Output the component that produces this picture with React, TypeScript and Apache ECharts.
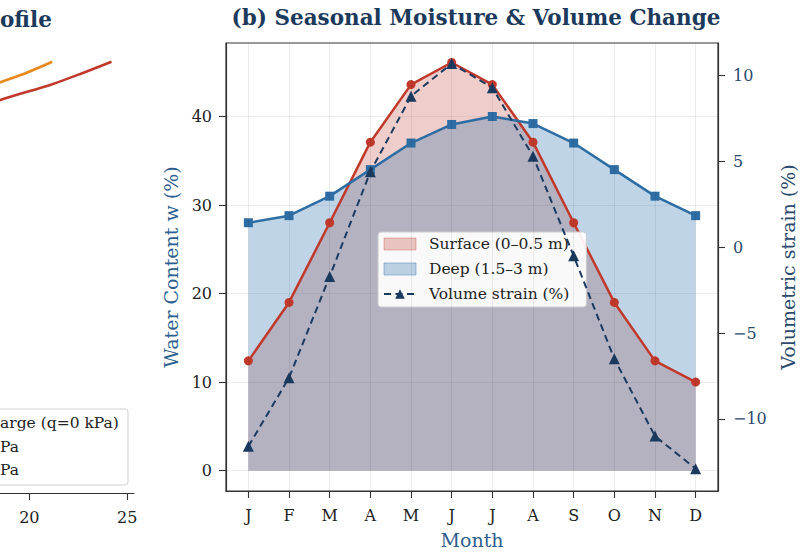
import React, { useEffect, useRef } from 'react';
import * as echarts from 'echarts';

// ---------- Panel (b) data ----------
const months = ['J', 'F', 'M', 'A', 'M', 'J', 'J', 'A', 'S', 'O', 'N', 'D'];
const surfaceW = [12.4, 19.0, 28.0, 37.1, 43.6, 46.1, 43.6, 37.1, 28.0, 19.0, 12.4, 10.0];
const deepW = [28.0, 28.8, 31.0, 34.0, 37.0, 39.1, 40.0, 39.2, 37.0, 34.0, 31.0, 28.8];
const strainPct = [-11.6, -7.6, -1.7, 4.4, 8.8, 10.7, 9.3, 5.3, -0.5, -6.5, -11.0, -12.9];
const leftTicks = [0, 10, 20, 30, 40];
const rightTicks = [-10, -5, 0, 5, 10];

// ---------- Panel (a) data (only its right edge is visible) ----------
const profileDepth = [0, 0.08, 0.16, 0.27, 0.5, 1.0];
const swellQ0 = [24.2, 22.7, 21.1, 18.45, 14.0, 8.0];
const swellQ50 = [21.17, 19.8, 18.2, 16.5, 13.5, 8.0];
const profileTicks = [20, 25];

const FONT = 'DejaVu Serif';
const RED = '#c0392b';
const BLUE = '#2e6da4';
const NAVY = '#1b3a60';
const TITLE = '#1b3a5c';
const AXNAME = '#2e5f8f';
const RIGHTC = '#2c4a6e';

const monthIdx = months.map((_, i) => i);
const pts = (arr: number[]) => arr.map((v, i) => [i, v]);
const minus = (v: number) => (v < 0 ? '\u2212' + Math.abs(v) : String(v));

export default function App() {
  const ref = useRef<HTMLDivElement>(null);
  useEffect(() => {
    const chart = echarts.init(ref.current!, null, { renderer: 'svg' });
    const axisLine = { show: true, onZero: false, lineStyle: { color: '#333', width: 1.2 } };
    const tick = (vals: number[]) => ({
      show: true,
      customValues: vals,
      length: 7,
      lineStyle: { color: '#333', width: 1.1 },
    });
    const option: any = {
      animation: false,
      backgroundColor: '#fff',
      textStyle: { fontFamily: FONT },
      title: {
        text: '(b) Seasonal Moisture & Volume Change',
        left: 476,
        top: 6,
        padding: 0,
        textAlign: 'center',
        textStyle: { fontFamily: FONT, fontWeight: 'bold', fontSize: 21.5, color: TITLE },
      },
      graphic: [
        {
          type: 'text',
          x: 0,
          y: 19,
          style: {
            text: 'ofile',
            textAlign: 'left',
            textVerticalAlign: 'middle',
            font: `bold 21.5px "${FONT}"`,
            fill: TITLE,
          },
        },
        {
          type: 'rect',
          shape: { x: -140, y: 409, width: 268, height: 76, r: 3 },
          style: { fill: '#fff', stroke: '#d0d0d0', lineWidth: 1 },
          z: 10,
        },
        {
          type: 'text', x: 0, y: 423, z: 11,
          style: { text: 'arge (q=0 kPa)', textAlign: 'left', textVerticalAlign: 'middle', font: `15.5px "${FONT}"`, fill: '#222' },
        },
        {
          type: 'text', x: 0, y: 447, z: 11,
          style: { text: 'Pa', textAlign: 'left', textVerticalAlign: 'middle', font: `15.5px "${FONT}"`, fill: '#222' },
        },
        {
          type: 'text', x: 0, y: 470, z: 11,
          style: { text: 'Pa', textAlign: 'left', textVerticalAlign: 'middle', font: `15.5px "${FONT}"`, fill: '#222' },
        },
      ],
      legend: {
        orient: 'vertical',
        left: 378,
        top: 232,
        itemWidth: 32,
        itemHeight: 12,
        itemGap: 9,
        padding: [4, 17, 5, 5],
        backgroundColor: 'rgba(255,255,255,0.92)',
        borderColor: '#cccccc',
        borderWidth: 1,
        borderRadius: 3,
        textStyle: { fontFamily: FONT, fontSize: 15.5, color: '#222', padding: [0, 0, 0, 8] },
        data: [
          {
            name: 'Surface (0–0.5 m)',
            icon: 'rect',
            itemStyle: { color: 'rgba(192,57,43,0.28)', borderColor: 'rgba(192,57,43,0.35)', borderWidth: 1 },
          },
          {
            name: 'Deep (1.5–3 m)',
            icon: 'rect',
            itemStyle: { color: 'rgba(42,111,171,0.3)', borderColor: 'rgba(42,111,171,0.4)', borderWidth: 1 },
          },
          { name: 'Volume strain (%)' },
        ],
      },
      grid: [
        { left: 226, top: 43, width: 501, height: 450, show: true, borderColor: '#333', borderWidth: 1.2 },
        { left: 0, top: 43, width: 134, height: 450 },
      ],
      xAxis: [
        {
          type: 'value',
          gridIndex: 0,
          min: -0.55,
          max: 11.55,
          name: 'Month',
          nameLocation: 'middle',
          nameGap: 39,
          nameTextStyle: { fontFamily: FONT, fontSize: 19, color: AXNAME },
          axisLine,
          axisTick: tick(monthIdx),
          axisLabel: {
            customValues: monthIdx,
            formatter: (v: number) => months[Math.round(v)] ?? '',
            fontFamily: FONT,
            fontSize: 16,
            color: '#222',
            margin: 16,
          },
          splitLine: { show: false },
        },
        {
          type: 'value',
          gridIndex: 1,
          min: 18.5,
          max: 25.35,
          axisLine,
          axisTick: tick(profileTicks),
          axisLabel: { customValues: profileTicks, fontFamily: FONT, fontSize: 16, color: '#222', margin: 16 },
          splitLine: { show: false },
        },
      ],
      yAxis: [
        {
          type: 'value',
          gridIndex: 0,
          min: -2.3,
          max: 48.3,
          name: 'Water Content w (%)',
          nameLocation: 'middle',
          nameGap: 45,
          nameTextStyle: { fontFamily: FONT, fontSize: 19, color: AXNAME },
          axisLine,
          axisTick: tick(leftTicks),
          axisLabel: { customValues: leftTicks, fontFamily: FONT, fontSize: 16, color: '#222', margin: 14 },
          splitLine: { show: true, lineStyle: { color: 'rgba(0,0,0,0.07)', width: 1 } },
        },
        {
          type: 'value',
          gridIndex: 0,
          position: 'right',
          min: -14.2,
          max: 11.9,
          name: 'Volumetric strain (%)',
          nameLocation: 'middle',
          nameGap: 60,
          nameTextStyle: { fontFamily: FONT, fontSize: 19, color: RIGHTC },
          axisLine,
          axisTick: tick(rightTicks),
          axisLabel: {
            customValues: rightTicks,
            formatter: (v: number) => minus(v),
            fontFamily: FONT,
            fontSize: 16,
            color: RIGHTC,
            margin: 15,
          },
          splitLine: { show: false },
        },
        { type: 'value', gridIndex: 1, inverse: true, min: -0.13, max: 3, show: false },
      ],
      series: [
        {
          name: 'Surface (0–0.5 m)',
          type: 'line',
          data: pts(surfaceW),
          symbol: 'none',
          lineStyle: { width: 0 },
          itemStyle: { color: RED },
          areaStyle: { color: RED, opacity: 0.25 },
          silent: true,
          z: 1,
          markLine: {
            silent: true,
            symbol: 'none',
            label: { show: false },
            lineStyle: { color: 'rgba(0,0,0,0.07)', type: 'solid', width: 1 },
            data: monthIdx.map((i) => ({ xAxis: i })),
          },
        },
        {
          name: 'Deep (1.5–3 m)',
          type: 'line',
          data: pts(deepW),
          symbol: 'none',
          lineStyle: { width: 0 },
          itemStyle: { color: '#2a6fab' },
          areaStyle: { color: '#2a6fab', opacity: 0.3 },
          silent: true,
          z: 1,
        },
        {
          name: 'Surface line',
          type: 'line',
          data: pts(surfaceW),
          symbol: 'circle',
          symbolSize: 9,
          lineStyle: { color: RED, width: 2.5 },
          itemStyle: { color: RED },
          z: 3,
        },
        {
          name: 'Deep line',
          type: 'line',
          data: pts(deepW),
          symbol: 'rect',
          symbolSize: 9,
          lineStyle: { color: BLUE, width: 2.5 },
          itemStyle: { color: BLUE },
          z: 3,
        },
        {
          name: 'Volume strain (%)',
          type: 'line',
          yAxisIndex: 1,
          data: pts(strainPct),
          symbol: 'triangle',
          symbolSize: 11,
          lineStyle: { color: NAVY, width: 2, type: [7, 4.5] },
          itemStyle: { color: NAVY },
          z: 4,
        },
        {
          name: 'q0',
          type: 'line',
          xAxisIndex: 1,
          yAxisIndex: 2,
          data: profileDepth.map((d, i) => [swellQ0[i], d]),
          symbol: 'none',
          smooth: 0.3,
          lineStyle: { color: RED, width: 2.6 },
        },
        {
          name: 'q50',
          type: 'line',
          xAxisIndex: 1,
          yAxisIndex: 2,
          data: profileDepth.map((d, i) => [swellQ50[i], d]),
          symbol: 'none',
          smooth: 0.3,
          lineStyle: { color: '#e8891e', width: 2.6 },
        },
      ],
    };
    chart.setOption(option);
    return () => chart.dispose();
  }, []);
  return (
    <div
      ref={ref}
      style={{ position: 'fixed', left: 0, top: 0, width: 805, height: 554, background: '#fff' }}
    />
  );
}
